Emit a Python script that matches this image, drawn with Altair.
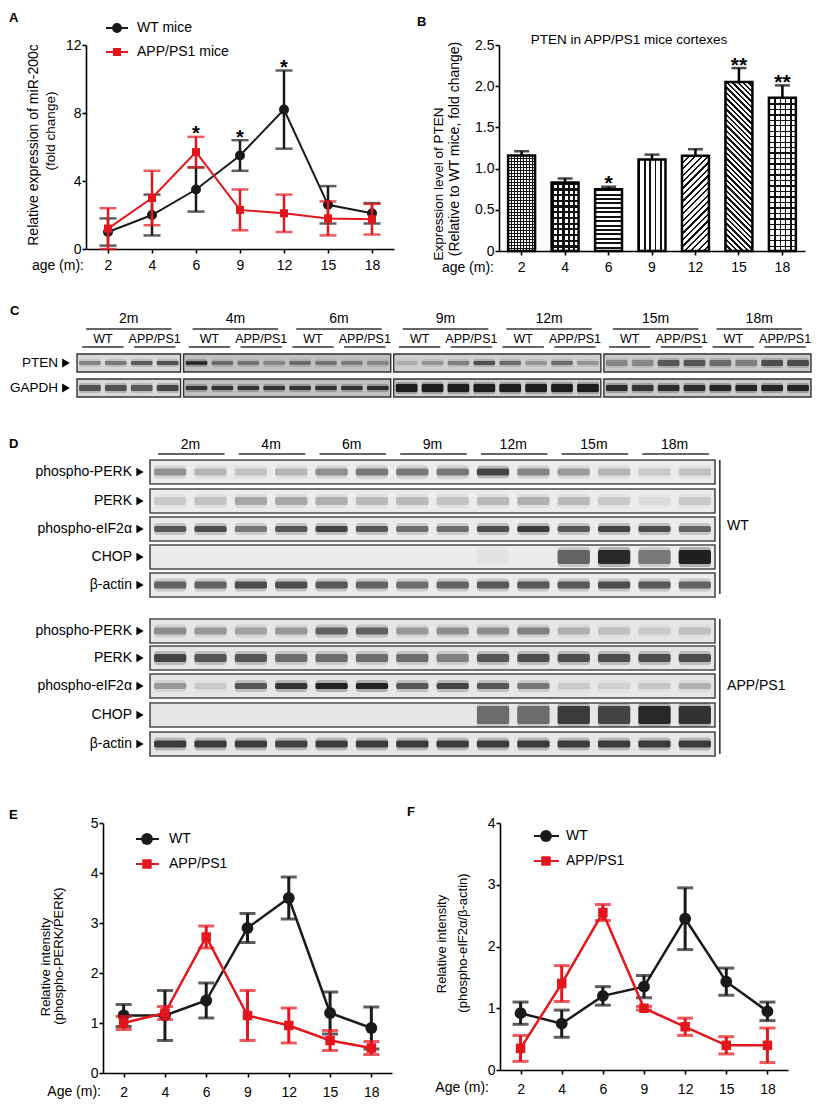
import math
import altair as alt
import pandas as pd

FONT = "Liberation Sans"
INK = "#1a1a1a"
RED = "#e3161d"

# ---------------- data ----------------
ages = ["2", "4", "6", "9", "12", "15", "18"]

# A: miR-200c
a_wt_mean = [1.0, 2.0, 3.5, 5.5, 8.2, 2.6, 2.1]
a_wt_sem = [0.8, 1.2, 1.3, 0.9, 2.3, 1.1, 0.6]
a_app_mean = [1.2, 3.0, 5.7, 2.3, 2.1, 1.8, 1.75]
a_app_sem = [1.2, 1.6, 0.9, 1.2, 1.1, 1.0, 0.9]
a_sig = ["", "", "*", "*", "*", "", ""]

# B: PTEN
b_mean = [1.16, 0.83, 0.75, 1.11, 1.155, 2.05, 1.86]
b_sem = [0.05, 0.05, 0.03, 0.06, 0.08, 0.17, 0.15]
b_sig = ["", "", "*", "", "", "**", "**"]

# E: phospho-PERK/PERK
e_wt_mean = [1.15, 1.15, 1.45, 2.9, 3.5, 1.2, 0.9]
e_wt_sem = [0.22, 0.5, 0.35, 0.29, 0.42, 0.42, 0.42]
e_app_mean = [1.0, 1.2, 2.72, 1.15, 0.95, 0.65, 0.5]
e_app_sem = [0.13, 0.13, 0.22, 0.5, 0.35, 0.2, 0.13]

# F: phospho-eIF2a/beta-actin
f_wt_mean = [0.92, 0.75, 1.2, 1.35, 2.45, 1.43, 0.95]
f_wt_sem = [0.18, 0.22, 0.15, 0.18, 0.5, 0.22, 0.15]
f_app_mean = [0.35, 1.4, 2.55, 1.0, 0.7, 0.4, 0.4]
f_app_sem = [0.21, 0.29, 0.13, 0.03, 0.14, 0.14, 0.28]

# C: blot band intensities (4 lanes per age: WT, WT, APP/PS1, APP/PS1)
c_ages = ["2m", "4m", "6m", "9m", "12m", "15m", "18m"]
c_groups = ["WT", "APP/PS1"]
c_box_ages = [1, 2, 2, 2]
c_pten = [0.35, 0.40, 0.55, 0.60, 0.85, 0.45, 0.40, 0.30, 0.45, 0.40, 0.35, 0.30,
          0.15, 0.25, 0.35, 0.60, 0.45, 0.25, 0.45, 0.25,
          0.30, 0.30, 0.55, 0.55, 0.45, 0.35, 0.60, 0.60]
c_gapdh = [0.60, 0.60, 0.55, 0.65, 0.75, 0.75, 0.75, 0.75, 0.75, 0.75, 0.75, 0.80,
           0.90, 0.90, 0.90, 0.90, 0.90, 0.90, 0.90, 0.90,
           0.80, 0.75, 0.80, 0.80, 0.85, 0.85, 0.85, 0.85]

# D: blot band intensities (2 lanes per age)
d_rows = ["phospho-PERK", "PERK", "phospho-eIF2\u03b1", "CHOP", "\u03b2-actin"]
d_wt_pperk = [0.35, 0.20, 0.15, 0.20, 0.35, 0.45, 0.45, 0.45, 0.70, 0.40, 0.30, 0.20, 0.12, 0.15]
d_wt_perk = [0.12, 0.15, 0.25, 0.25, 0.22, 0.18, 0.18, 0.15, 0.18, 0.22, 0.18, 0.12, 0.05, 0.12]
d_wt_peif = [0.60, 0.65, 0.45, 0.60, 0.70, 0.60, 0.50, 0.50, 0.65, 0.75, 0.60, 0.70, 0.65, 0.55]
d_wt_chop = [0, 0, 0, 0, 0, 0, 0, 0, 0.03, 0, 0.55, 0.85, 0.45, 0.90]
d_wt_actin = [0.55, 0.55, 0.65, 0.65, 0.60, 0.55, 0.50, 0.55, 0.60, 0.60, 0.60, 0.65, 0.60, 0.55]
d_app_pperk = [0.35, 0.30, 0.25, 0.30, 0.55, 0.55, 0.30, 0.35, 0.35, 0.40, 0.20, 0.15, 0.10, 0.15]
d_app_perk = [0.70, 0.60, 0.60, 0.50, 0.50, 0.50, 0.50, 0.40, 0.60, 0.65, 0.65, 0.65, 0.65, 0.65]
d_app_peif = [0.30, 0.10, 0.60, 0.80, 0.90, 0.90, 0.60, 0.70, 0.60, 0.45, 0.10, 0.08, 0.12, 0.20]
d_app_chop = [0, 0, 0, 0, 0, 0, 0, 0, 0.50, 0.50, 0.75, 0.70, 0.85, 0.80]
d_app_actin = [0.75, 0.75, 0.75, 0.70, 0.75, 0.75, 0.75, 0.75, 0.75, 0.75, 0.75, 0.75, 0.75, 0.75]

# ---------------- helpers ----------------
ONE = pd.DataFrame({"k": [0]})


def anchor(x, y1, y2):
    return alt.Chart(ONE).mark_rule(opacity=0, strokeWidth=0).encode(
        x=alt.value(x), y=alt.value(y1), y2=alt.value(y2))


def spacer():
    return alt.Chart(ONE).mark_rule(opacity=0, strokeWidth=0).encode(
        x=alt.value(0.5), y=alt.value(0), y2=alt.value(1)).properties(width=1, height=1)


def txt(s, x, y, size=14, angle=0, align="center", baseline="middle",
        weight="normal", color="black"):
    return alt.Chart(pd.DataFrame({"t": [s]})).mark_text(
        font=FONT, fontSize=size, angle=angle, align=align, baseline=baseline,
        fontWeight=weight, color=color).encode(
        x=alt.value(x), y=alt.value(y), text="t:N")


def axis(**kw):
    base = dict(title=None, grid=False, domainColor="black", domainWidth=1.6,
                tickColor="black", tickWidth=1.6, tickSize=4, labelFont=FONT,
                labelFontSize=14, labelColor="black")
    base.update(kw)
    return alt.Axis(**base)


def series_df(mean, sem):
    return pd.DataFrame({"age": ages, "mean": mean,
                         "lo": [m - s for m, s in zip(mean, sem)],
                         "hi": [m + s for m, s in zip(mean, sem)]})


def line_layers(df, color, shape, msize, X, Y, cap, sw, lw):
    b = alt.Chart(df)
    return [
        b.mark_rule(color=color, strokeWidth=sw).encode(x=X, y=Y("lo"), y2="hi:Q"),
        b.mark_tick(color=color, size=cap, thickness=sw).encode(x=X, y=Y("lo")),
        b.mark_tick(color=color, size=cap, thickness=sw).encode(x=X, y=Y("hi")),
        b.mark_line(color=color, strokeWidth=lw).encode(x=X, y=Y("mean")),
        b.mark_point(filled=True, shape=shape, size=msize, color=color,
                     opacity=1).encode(x=X, y=Y("mean")),
    ]


def legend_item(label, color, shape, msize, x1, x2, xm, xt, y, fs=14):
    b = alt.Chart(pd.DataFrame({"t": [label]}))
    return [
        b.mark_rule(color=color, strokeWidth=2).encode(
            x=alt.value(x1), x2=alt.value(x2), y=alt.value(y)),
        b.mark_point(filled=True, shape=shape, size=msize, color=color,
                     opacity=1).encode(x=alt.value(xm), y=alt.value(y)),
        b.mark_text(font=FONT, fontSize=fs, align="left", baseline="middle",
                    color="black").encode(x=alt.value(xt), y=alt.value(y), text="t:N"),
    ]


def line_panel(W, H, ymax, yticks, wt, app, cap, sw, lw, csize, ssize, lab_pad, extra):
    xs = alt.Scale(type="point", domain=ages, padding=0.5)
    X = alt.X("age:O", sort=ages, scale=xs, axis=axis(labelAngle=0, labelPadding=lab_pad))
    ys = alt.Scale(domain=[0, ymax], nice=False)
    yax = axis(values=yticks, labelPadding=1)

    def Y(f):
        return alt.Y(f"{f}:Q", scale=ys, axis=yax)

    layers = []
    layers += line_layers(series_df(*wt), INK, "circle", csize, X, Y, cap, sw, lw)
    layers += line_layers(series_df(*app), RED, "square", ssize, X, Y, cap, sw, lw)
    layers += extra(X, Y)
    return alt.layer(*layers).properties(width=W, height=H)


# ---------------- panel A ----------------
A_W, A_H = 308, 204


def a_extra(X, Y):
    top = [max(w + ws, p + ps) for w, ws, p, ps in zip(a_wt_mean, a_wt_sem, a_app_mean, a_app_sem)]
    sdf = pd.DataFrame({"age": ages, "y": top, "sig": a_sig})
    stars = alt.Chart(sdf).transform_filter("datum.sig != ''").mark_text(
        font=FONT, fontSize=20, fontWeight="bold", baseline="alphabetic", dy=3.5,
        color="black").encode(x=X, y=Y("y"), text="sig:N")
    out = [stars]
    out += legend_item("WT mice", INK, "circle", 100, 20, 42, 31, 51, -17)
    out += legend_item("APP/PS1 mice", RED, "square", 64, 20, 42, 31, 51, 7)
    out += [
        txt("Relative expression of miR-200c", -52, 100, size=14, angle=270),
        txt("(fold change)", -35.5, 86, size=13.5, angle=270),
        txt("age (m):", -2, A_H + 17, size=14, align="right"),
        txt("A", -77, -33, size=13, align="left", baseline="top", weight="bold"),
        anchor(-77, -37, 245),
        anchor(309, -37, 245),
    ]
    return out


panelA = line_panel(A_W, A_H, 12, [0, 4, 8, 12], (a_wt_mean, a_wt_sem),
                    (a_app_mean, a_app_sem), 17, 2.5, 2, 100, 64, 5, a_extra)

# ---------------- panel B ----------------
B_W, B_H = 306, 206
PI, PO = 0.38, 0.21
b_step = B_W / (7 - PI + 2 * PO)
b_bw = b_step * (1 - PI)
CLEAR = "rgba(0,0,0,0)"


def stripes(kind, period, w, h, duty, line="#111111", bg="white"):
    if kind == "h":
        L, g = h, dict(x1=0, y1=0, x2=0, y2=1)
    elif kind == "v":
        L, g = w, dict(x1=0, y1=0, x2=1, y2=0)
    else:
        t = w * h * (w + h) / (w * w + h * h)
        L = (w + h) / math.sqrt(2)
        if kind == "d1":
            g = dict(x1=0, y1=0, x2=t / h, y2=t / w)
        else:
            g = dict(x1=0, y1=1, x2=t / h, y2=1 - t / w)
    n = max(1, int(round(L / period)))
    stops = []
    for i in range(n):
        a0, a1, a2 = i / n, (i + duty) / n, (i + 1) / n
        stops += [(a0, line), (a1, line), (a1, bg), (a2, bg)]
    return alt.LinearGradient(
        gradient="linear",
        stops=[alt.GradientStop(offset=round(o, 5), color=c) for o, c in stops], **g)


b_patterns = {
    "2": [("h", 3.0, 0.32, "white"), ("v", 3.0, 0.32, CLEAR)],
    "4": [("h", 5.5, 0.4, "white"), ("v", 5.5, 0.4, CLEAR)],
    "6": [("h", 4.3, 0.45, "white")],
    "9": [("v", 5.0, 0.3, "white")],
    "12": [("d1", 4.6, 0.35, "white")],
    "15": [("d2", 3.8, 0.45, "white")],
    "18": [("h", 5.5, 0.25, "white"), ("v", 5.5, 0.25, CLEAR)],
}

xsB = alt.Scale(type="band", domain=ages, paddingInner=PI, paddingOuter=PO)
XB = alt.X("age:O", sort=ages, scale=xsB, axis=axis(labelAngle=0, labelPadding=5))
ysB = alt.Scale(domain=[0, 2.5], nice=False)
yaxB = axis(values=[0, 0.5, 1, 1.5, 2, 2.5], labelPadding=1,
            labelExpr="datum.value == 0 ? '0' : format(datum.value, '.1f')")


def YB(f):
    return alt.Y(f"{f}:Q", scale=ysB, axis=yaxB)


dfB = pd.DataFrame({"age": ages, "mean": b_mean,
                    "hi": [m + s for m, s in zip(b_mean, b_sem)], "sig": b_sig})
b_layers = [anchor(-104, -35, 247)]
for a, m in zip(ages, b_mean):
    hpx = m / 2.5 * B_H
    for kind, per, duty, bg in b_patterns[a]:
        b_layers.append(
            alt.Chart(dfB).transform_filter(alt.datum.age == a).mark_bar(
                fill=stripes(kind, per, b_bw, hpx, duty, bg=bg)).encode(x=XB, y=YB("mean")))
b_layers += [
    alt.Chart(dfB).mark_bar(fillOpacity=0, stroke="black", strokeWidth=2.5).encode(x=XB, y=YB("mean")),
    alt.Chart(dfB).mark_rule(color="black", strokeWidth=2.5).encode(x=XB, y=YB("mean"), y2="hi:Q"),
    alt.Chart(dfB).mark_tick(color="black", size=15, thickness=2.5).encode(x=XB, y=YB("hi")),
    alt.Chart(dfB).transform_filter("datum.sig != ''").mark_text(
        font=FONT, fontSize=21, fontWeight="bold", baseline="alphabetic", dy=3.5,
        color="black").encode(x=XB, y=YB("hi"), text="sig:N"),
    txt("PTEN in APP/PS1 mice cortexes", 130, -5, size=13.5),
    txt("Expression level of PTEN", -60, 139, size=13.5, angle=270),
    txt("(Relative to WT mice, fold change)", -44.5, 104, size=14, angle=270),
    txt("age (m):", -5, B_H + 17, size=14, align="right"),
    txt("B", -82, -29, size=13, align="left", baseline="top", weight="bold"),
]
panelB = alt.layer(*b_layers).properties(width=B_W, height=B_H)

# ---------------- panel C (blot) ----------------
C_W, C_H = 734, 92
C_GAP = 3 / 25.9
c_lane = []
c_box = []
pos = 0.0
for k, nag in enumerate(c_box_ages):
    start = pos
    for j in range(nag * 4):
        c_lane.append(start + j + 0.5)
    c_box.append((start, start + nag * 4))
    pos = start + nag * 4 + C_GAP
C_TOT = pos - C_GAP

c_box_bg = ["#d8d8d8", "#c0c0c0", "#cfcfcf", "#cbcbcb"]
c_row_top = {"PTEN": 47, "GAPDH": 72}
C_ROW_H = 18
c_band_h = {"PTEN": [4, 3.5, 4, 6], "GAPDH": [6, 4, 8, 6]}

xsC = alt.Scale(domain=[0, C_TOT], nice=False, zero=False)
ysC = alt.Scale(domain=[0, C_H], reverse=True, nice=False, zero=False)


def XC(f):
    return alt.X(f"{f}:Q", scale=xsC, axis=None)


def YC(f):
    return alt.Y(f"{f}:Q", scale=ysC, axis=None)


box_rows = []
for k, (s, e) in enumerate(c_box):
    for r, top in c_row_top.items():
        box_rows.append({"x1": s, "x2": e, "y1": top, "y2": top + C_ROW_H, "bg": c_box_bg[k]})
box_df = pd.DataFrame(box_rows)

band_rows = []
for r, vals in (("PTEN", c_pten), ("GAPDH", c_gapdh)):
    yc = c_row_top[r] + C_ROW_H / 2
    for i, v in enumerate(vals):
        k = 0 if i < 4 else 1 + (i - 4) // 8
        bh = c_band_h[r][k]
        band_rows.append({"x1": c_lane[i] - 0.42, "x2": c_lane[i] + 0.42,
                          "y1": yc - bh / 2, "y2": yc + bh / 2, "op": v,
                          "hy1": yc - bh / 2 - 2, "hy2": yc + bh / 2 + 2, "hop": v * 0.3})
band_df = pd.DataFrame(band_rows)

hdr_t, hdr_l = [], []
for i, ag in enumerate(c_ages):
    ln = c_lane[4 * i:4 * i + 4]
    hdr_t.append({"x": sum(ln) / 4, "y": 12, "t": ag, "fs": 14})
    hdr_l.append({"x1": ln[0] - 0.15, "x2": ln[3] + 0.15, "y": 22})
    for g, (p, q) in zip(c_groups, ((0, 1), (2, 3))):
        hdr_t.append({"x": (ln[p] + ln[q]) / 2, "y": 32, "t": g, "fs": 12.5})
        hdr_l.append({"x1": ln[p] - 0.3, "x2": ln[q] + 0.3, "y": 40})
hdr_t = pd.DataFrame(hdr_t)
hdr_l = pd.DataFrame(hdr_l)
c_lab = pd.DataFrame({"t": list(c_row_top.keys()),
                      "y": [v + C_ROW_H / 2 for v in c_row_top.values()]})

panelC = alt.layer(
    anchor(-67, -15, 122),
    alt.Chart(box_df).mark_rect(stroke="#333333", strokeWidth=1.4).encode(
        x=XC("x1"), x2="x2:Q", y=YC("y1"), y2="y2:Q", fill=alt.Fill("bg:N", scale=None)),
    alt.Chart(band_df).mark_rect(color="#111111", cornerRadius=2).encode(
        x=XC("x1"), x2="x2:Q", y=YC("hy1"), y2="hy2:Q", opacity=alt.Opacity("hop:Q", scale=None)),
    alt.Chart(band_df).mark_rect(color="#111111", cornerRadius=1.5).encode(
        x=XC("x1"), x2="x2:Q", y=YC("y1"), y2="y2:Q", opacity=alt.Opacity("op:Q", scale=None)),
    alt.Chart(hdr_t).mark_text(font=FONT, color="black", baseline="middle").encode(
        x=XC("x"), y=YC("y"), text="t:N", size=alt.Size("fs:Q", scale=None)),
    alt.Chart(hdr_l).mark_rule(color="#333333", strokeWidth=1.3).encode(
        x=XC("x1"), x2="x2:Q", y=YC("y")),
    alt.Chart(c_lab).mark_text(font=FONT, fontSize=13.5, align="right", baseline="middle",
                               color="black").encode(x=alt.value(-19), y=YC("y"), text="t:N"),
    alt.Chart(c_lab).mark_point(shape="triangle-right", filled=True, size=80, color="black",
                                opacity=1).encode(x=alt.value(-11), y=YC("y")),
    txt("C", -67, -2, size=13, align="left", baseline="top", weight="bold"),
).properties(width=C_W, height=C_H)

# ---------------- panel D (blot) ----------------
D_W, D_H = 565, 322
D_LANES = 14
d_tops_wt = [23, 52, 80, 108, 136]
d_tops_app = [182, 209, 237, 266, 295]
D_ROW_H = 24
d_band_h_wt = [7, 8, 6, 14, 7]
d_band_h_app = [7, 8, 6, 18, 7]
d_bg = ["#ebebeb", "#e6e6e6"]

xsD = alt.Scale(domain=[0, D_LANES], nice=False, zero=False)
ysD = alt.Scale(domain=[0, D_H], reverse=True, nice=False, zero=False)


def XD(f):
    return alt.X(f"{f}:Q", scale=xsD, axis=None)


def YD(f):
    return alt.Y(f"{f}:Q", scale=ysD, axis=None)


d_sets = [
    (d_tops_wt, d_band_h_wt, [d_wt_pperk, d_wt_perk, d_wt_peif, d_wt_chop, d_wt_actin], d_bg[0]),
    (d_tops_app, d_band_h_app, [d_app_pperk, d_app_perk, d_app_peif, d_app_chop, d_app_actin], d_bg[1]),
]
dbox, dband, dlab = [], [], []
for tops, bhs, rows, bg in d_sets:
    for name, top, bh, vals in zip(d_rows, tops, bhs, rows):
        dbox.append({"x1": 0, "x2": D_LANES, "y1": top, "y2": top + D_ROW_H, "bg": bg})
        yc = top + D_ROW_H / 2
        dlab.append({"t": name, "y": yc})
        for i, v in enumerate(vals):
            dband.append({"x1": i + 0.1, "x2": i + 0.9, "y1": yc - bh / 2, "y2": yc + bh / 2,
                          "op": v, "hy1": yc - bh / 2 - 3, "hy2": yc + bh / 2 + 3, "hop": v * 0.3})
dbox = pd.DataFrame(dbox)
dband = pd.DataFrame(dband)
dlab = pd.DataFrame(dlab)
dhdr_t = pd.DataFrame({"x": [2 * i + 1 for i in range(7)], "y": [8] * 7, "t": c_ages})
dhdr_l = pd.DataFrame({"x1": [2 * i + 0.2 for i in range(7)],
                       "x2": [2 * i + 1.85 for i in range(7)], "y": [17] * 7})
dbr = pd.DataFrame({"x": [14.12, 14.12], "y1": [23, 182], "y2": [157, 317],
                    "tx": [14.3, 14.3], "ty": [89, 249], "t": ["WT", "APP/PS1"]})

panelD = alt.layer(
    anchor(-141, -8, 352),
    alt.Chart(dbox).mark_rect(stroke="#4a4a4a", strokeWidth=1.6).encode(
        x=XD("x1"), x2="x2:Q", y=YD("y1"), y2="y2:Q", fill=alt.Fill("bg:N", scale=None)),
    alt.Chart(dband).mark_rect(color="#111111", cornerRadius=3).encode(
        x=XD("x1"), x2="x2:Q", y=YD("hy1"), y2="hy2:Q", opacity=alt.Opacity("hop:Q", scale=None)),
    alt.Chart(dband).mark_rect(color="#111111", cornerRadius=2).encode(
        x=XD("x1"), x2="x2:Q", y=YD("y1"), y2="y2:Q", opacity=alt.Opacity("op:Q", scale=None)),
    alt.Chart(dhdr_t).mark_text(font=FONT, fontSize=14, color="black", baseline="middle").encode(
        x=XD("x"), y=YD("y"), text="t:N"),
    alt.Chart(dhdr_l).mark_rule(color="#333333", strokeWidth=1.4).encode(
        x=XD("x1"), x2="x2:Q", y=YD("y")),
    alt.Chart(dlab).mark_text(font=FONT, fontSize=14, align="right", baseline="middle",
                              color="black").encode(x=alt.value(-18), y=YD("y"), text="t:N"),
    alt.Chart(dlab).mark_point(shape="triangle-right", filled=True, size=70, color="black",
                               opacity=1).encode(x=alt.value(-10), y=YD("y")),
    alt.Chart(dbr).mark_rule(color="#333333", strokeWidth=1.6).encode(
        x=XD("x"), y=YD("y1"), y2="y2:Q"),
    alt.Chart(dbr).mark_text(font=FONT, fontSize=14, align="left", baseline="middle",
                             color="black").encode(x=XD("tx"), y=YD("ty"), text="t:N"),
    txt("D", -141, 1, size=13, align="left", baseline="top", weight="bold"),
).properties(width=D_W, height=D_H)

# ---------------- panels E, F ----------------
E_W, E_H = 289, 250
F_W, F_H = 288, 247


def e_extra(X, Y):
    out = []
    out += legend_item("WT", INK, "circle", 140, 33, 56, 44, 66, 16)
    out += legend_item("APP/PS1", RED, "square", 90, 33, 56, 44, 66, 41)
    out += [
        txt("Relative intensity", -57, 144, size=13, angle=270),
        txt("(phospho-PERK/PERK)", -44, 133, size=13, angle=270),
        txt("Age (m):", -2, E_H + 19, size=14, align="right"),
        txt("E", -94, -14, size=13, align="left", baseline="top", weight="bold"),
        anchor(-94, -31, E_H + 10),
        anchor(293, -31, E_H + 10),
    ]
    return out


def f_extra(X, Y):
    out = []
    out += legend_item("WT", INK, "circle", 140, 34, 59, 46, 66, 13)
    out += legend_item("APP/PS1", RED, "square", 90, 34, 59, 46, 66, 38)
    out += [
        txt("Relative intensity", -58, 121, size=13, angle=270),
        txt("(phospho-eIF2\u03b1/\u03b2-actin)", -37, 120, size=13, angle=270),
        txt("Age (m):", -11, F_H + 18, size=14, align="right"),
        txt("F", -93, -17, size=13, align="left", baseline="top", weight="bold"),
        anchor(-104, -34, F_H + 10),
    ]
    return out


panelE = line_panel(E_W, E_H, 5, [0, 1, 2, 3, 4, 5], (e_wt_mean, e_wt_sem),
                    (e_app_mean, e_app_sem), 16, 3, 2.5, 140, 90, 8, e_extra)
panelF = line_panel(F_W, F_H, 4, [0, 1, 2, 3, 4], (f_wt_mean, f_wt_sem),
                    (f_app_mean, f_app_sem), 16, 3, 2.5, 140, 90, 8, f_extra)

row1 = alt.hconcat(spacer(), panelA, panelB, spacing=0)
row2 = alt.hconcat(spacer(), panelC, spacing=0)
row3 = alt.hconcat(spacer(), panelD, spacing=0)
row4 = alt.hconcat(spacer(), panelE, panelF, spacing=0)

chart = alt.vconcat(row1, row2, row3, row4, spacing=0).properties(
    padding=0
).configure_view(stroke=None).configure_concat(spacing=0)

chart.save("out.html", embed_options={"renderer": "svg", "actions": False})
